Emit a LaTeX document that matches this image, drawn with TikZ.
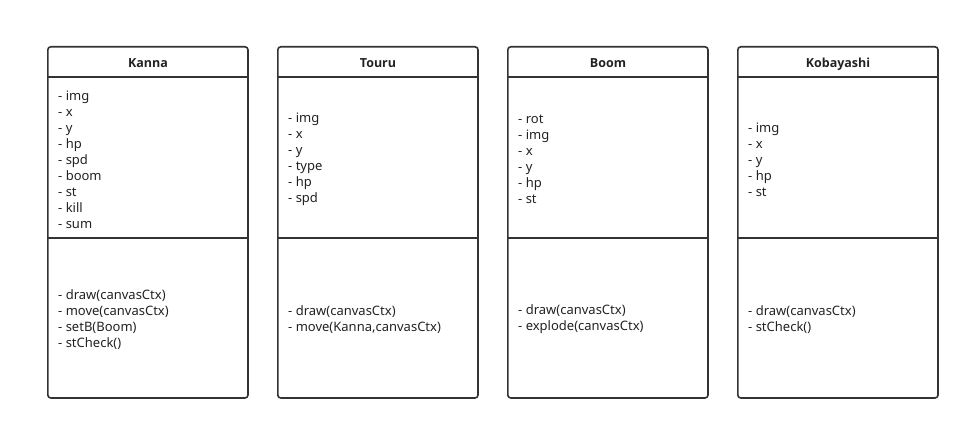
\documentclass[tikz,border=0pt]{standalone}
\usepackage{fontspec}
\setmainfont{Noto Sans}
\newfontfamily\classfont{Open Sans}
\usetikzlibrary{positioning}
\definecolor{umlline}{RGB}{51,51,51}
\definecolor{umltext}{RGB}{34,34,34}

\tikzset{
  classname/.style={font=\classfont\bfseries\fontsize{12.5}{16}\selectfont, text=umltext,
    minimum width=200pt, minimum height=30pt, inner sep=0pt,
    text height=12.5pt, text depth=1pt},
  members/.style={font=\fontsize{13}{16}\selectfont, text=umltext,
    align=left, anchor=west, inner sep=0pt},
  classframe/.style={draw=umlline, line width=1.6pt, rounded corners=3pt},
  divider/.style={draw=umlline, line width=1.6pt},
}

\begin{document}
\begin{tikzpicture}[x=1pt,y=-1pt]
  \useasboundingbox (0,0) rectangle (970,430);

  % Kanna
  \node[classname] (kanna) at (148,62) {Kanna};
  \node[members] (kanna-attr) at (58,159.5) {- img\\- x\\- y\\- hp\\- spd\\- boom\\- st\\- kill\\- sum};
  \node[members] (kanna-ops) at (58,319.5) {- draw(canvasCtx)\\- move(canvasCtx)\\- setB(Boom)\\- stCheck()};
  \draw[classframe] (kanna.north west) rectangle (248,398);
  \draw[divider] (kanna.south west) -- (kanna.south east);
  \draw[divider] (48,238) -- (248,238);

  % Touru
  \node[classname] (touru) at (378,62) {Touru};
  \node[members] (touru-attr) at (288,159.5) {- img\\- x\\- y\\- type\\- hp\\- spd};
  \node[members] (touru-ops) at (288,319.5) {- draw(canvasCtx)\\- move(Kanna,canvasCtx)};
  \draw[classframe] (touru.north west) rectangle (478,398);
  \draw[divider] (touru.south west) -- (touru.south east);
  \draw[divider] (278,238) -- (478,238);

  % Boom
  \node[classname] (boom) at (608,62) {Boom};
  \node[members] (boom-attr) at (518,159.5) {- rot\\- img\\- x\\- y\\- hp\\- st};
  \node[members] (boom-ops) at (518,319.5) {- draw(canvasCtx)\\- explode(canvasCtx)};
  \draw[classframe] (boom.north west) rectangle (708,398);
  \draw[divider] (boom.south west) -- (boom.south east);
  \draw[divider] (508,238) -- (708,238);

  % Kobayashi
  \node[classname] (kobayashi) at (838,62) {Kobayashi};
  \node[members] (kobayashi-attr) at (748,159.5) {- img\\- x\\- y\\- hp\\- st};
  \node[members] (kobayashi-ops) at (748,319.5) {- draw(canvasCtx)\\- stCheck()};
  \draw[classframe] (kobayashi.north west) rectangle (938,398);
  \draw[divider] (kobayashi.south west) -- (kobayashi.south east);
  \draw[divider] (738,238) -- (938,238);
\end{tikzpicture}
\end{document}
